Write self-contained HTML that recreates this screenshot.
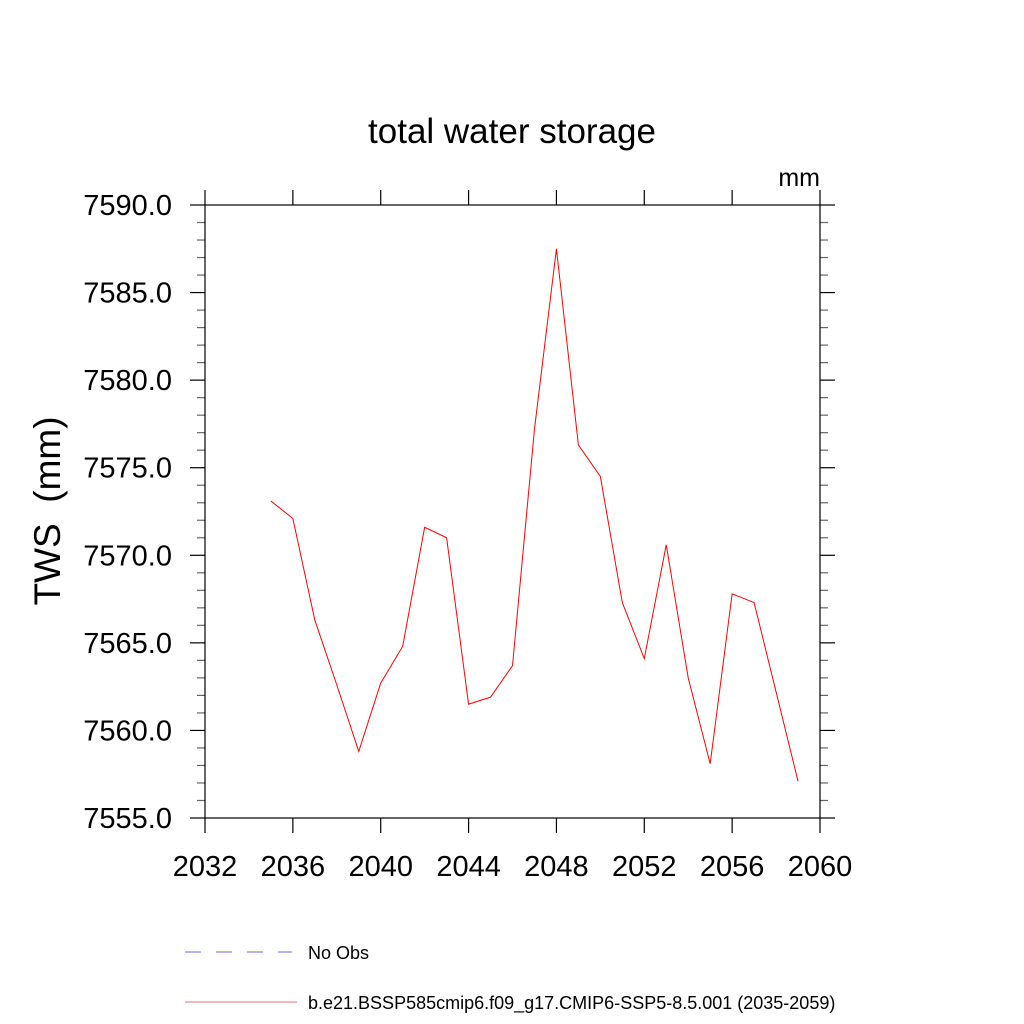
<!DOCTYPE html>
<html><head><meta charset="utf-8"><style>
body{margin:0;background:#fff}
svg{display:block;font-family:"Liberation Sans",sans-serif}
</style></head><body>
<svg id="chart" width="1024" height="1024">
<text x="512" y="143" font-size="35" text-anchor="middle">total water storage</text>
<text x="820" y="186" font-size="25" text-anchor="end">mm</text>
<text transform="translate(60,511) rotate(-90)" font-size="37" text-anchor="middle">TWS&#160;&#160;(mm)</text>
<g id="axes"></g>
<rect x="205" y="205" width="615" height="613" fill="none" stroke="#000" stroke-width="1.2"/>
<polyline id="series" fill="none" stroke="#ff0000" stroke-width="1"/>
<g>
<line x1="185" y1="952" x2="292" y2="952" stroke="#6666ff" stroke-width="1" stroke-dasharray="16,15"/>
<text x="308" y="959" font-size="18">No Obs</text>
<line x1="185" y1="1002" x2="297" y2="1002" stroke="#e87070" stroke-width="1"/>
<text x="308" y="1009" font-size="18">b.e21.BSSP585cmip6.f09_g17.CMIP6-SSP5-8.5.001 (2035-2059)</text>
</g>
</svg>
<script>
const years=[2035,2036,2037,2038,2039,2040,2041,2042,2043,2044,2045,2046,2047,2048,2049,2050,2051,2052,2053,2054,2055,2056,2057,2058,2059];
const tws=[7573.1,7572.1,7566.3,7562.6,7558.8,7562.7,7564.8,7571.6,7571.0,7561.5,7561.9,7563.7,7577.2,7587.5,7576.3,7574.5,7567.3,7564.1,7570.6,7563.0,7558.1,7567.8,7567.3,7562.2,7557.1];
const xTicks=[2032,2036,2040,2044,2048,2052,2056,2060];
const yTicks=[7555,7560,7565,7570,7575,7580,7585,7590];
const X0=205,X1=820,Y0=818,Y1=205,xmin=2032,xmax=2060,ymin=7555,ymax=7590;
const sx=v=>X0+(v-xmin)/(xmax-xmin)*(X1-X0);
const sy=v=>Y0-(v-ymin)/(ymax-ymin)*(Y0-Y1);
const NS="http://www.w3.org/2000/svg";
const g=document.getElementById('axes');
function ln(x1,y1,x2,y2,c,name){const l=document.createElementNS(NS,'line');l.setAttribute('x1',x1);l.setAttribute('y1',y1);l.setAttribute('x2',x2);l.setAttribute('y2',y2);l.setAttribute('stroke',c);l.setAttribute('stroke-width','1.2');


g.appendChild(l);}
function tx(x,y,s,anchor,name){const t=document.createElementNS(NS,'text');t.setAttribute('x',x);t.setAttribute('y',y);t.setAttribute('font-size','29');t.setAttribute('text-anchor',anchor);t.textContent=s;


g.appendChild(t);}
for(let v=ymin;v<=ymax;v+=1){if((v-ymin)%5===0)continue;const y=sy(v);ln(197,y,205,y,'#666','y-minor-tick');ln(820,y,828,y,'#666','y-minor-tick-right');}
yTicks.forEach(v=>{const y=sy(v);ln(190,y,205,y,'#000','y-major-tick');ln(820,y,835,y,'#000','y-major-tick-right');tx(172,y+10,v.toFixed(1),'end','y-tick-label');});
xTicks.forEach(v=>{const x=sx(v);ln(x,818,x,833,'#000','x-major-tick');ln(x,190,x,205,'#000','x-major-tick-top');tx(x,876,String(v),'middle','x-tick-label');});
document.getElementById('series').setAttribute('points',years.map((yr,i)=>sx(yr)+','+sy(tws[i])).join(' '));
</script>
</body></html>
